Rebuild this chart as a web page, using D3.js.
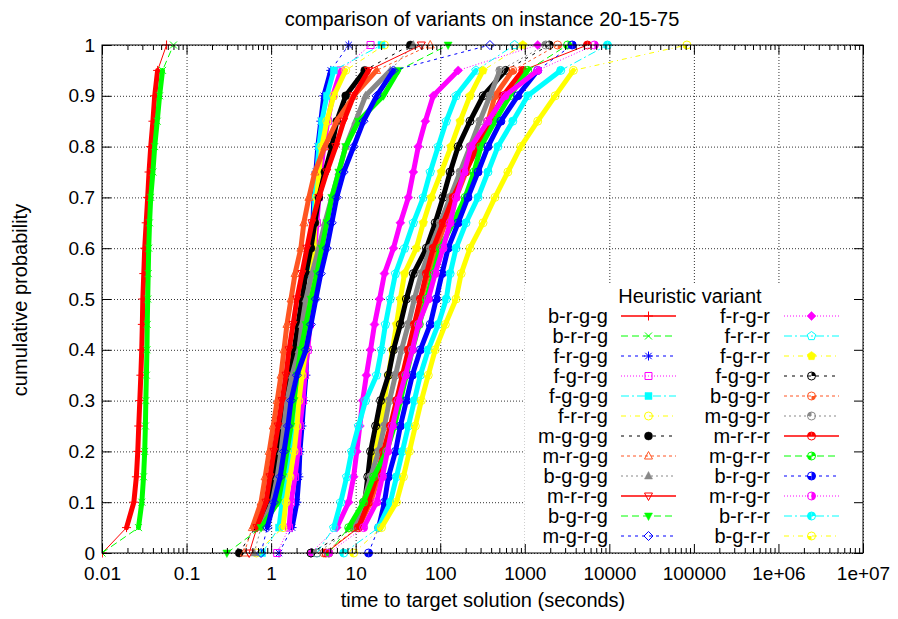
<!DOCTYPE html>
<html>
<head>
<meta charset="UTF-8">
<style>
  body { margin: 0; background: #fff; }
  svg { display: block; font-family: "Liberation Sans", Arial, Helvetica, sans-serif; }
</style>
</head>
<body>
<div id="chart"></div>
<script src="https://d3js.org/d3.v7.min.js"></script>
<script>
// cumulative probability levels read for every curve
var probs = [0, 0.05, 0.1, 0.15, 0.2, 0.25, 0.3, 0.35, 0.4, 0.45, 0.5, 0.55, 0.6, 0.65, 0.7, 0.75, 0.8, 0.85, 0.9, 0.95, 1];

// time to target (seconds) at those levels, one array per variant
var brgg = [0.0101, 0.0195, 0.0238, 0.0255, 0.0265, 0.0272, 0.028, 0.0288, 0.0295, 0.030, 0.0304, 0.0312, 0.032, 0.0333, 0.0347, 0.036, 0.0377, 0.040, 0.042, 0.0455, 0.058];
var brrg = [0.0100, 0.027, 0.0296, 0.031, 0.032, 0.0326, 0.033, 0.0335, 0.034, 0.0343, 0.0347, 0.0352, 0.0357, 0.0365, 0.0377, 0.040, 0.042, 0.045, 0.048, 0.052, 0.070];
var frgg = [1.24, 1.77, 2.02, 2.13, 2.19, 2.32, 2.44, 2.58, 2.65, 2.80, 2.88, 2.96, 3.04, 3.12, 3.21, 3.38, 3.57, 3.87, 4.2, 5.08, 8.27];
var fgrg = [1.18, 1.63, 1.72, 1.92, 2.08, 2.19, 2.38, 2.51, 2.72, 2.88, 3.04, 3.21, 3.29, 3.48, 3.67, 3.87, 4.2, 4.68, 5.36, 6.66, 15.0];
var fggg = [0.78, 1.24, 1.35, 1.50, 1.72, 1.87, 2.02, 2.19, 2.44, 2.65, 2.80, 2.96, 3.12, 3.21, 3.29, 3.48, 3.67, 3.98, 4.56, 5.51, 20.2];
var frrg = [0.67, 1.38, 1.50, 1.67, 1.87, 2.02, 2.13, 2.32, 2.58, 2.72, 2.88, 3.04, 3.21, 3.29, 3.48, 3.67, 3.98, 4.56, 5.51, 7.62, 21.9];
var mggg = [0.42, 0.65, 0.95, 1.06, 1.18, 1.35, 1.50, 1.67, 1.87, 2.08, 2.32, 2.58, 2.96, 3.29, 3.67, 4.32, 5.22, 5.97, 7.62, 12.8, 44.4];
var mrgg = [0.48, 0.60, 0.76, 0.85, 0.95, 1.06, 1.18, 1.31, 1.42, 1.54, 1.72, 1.92, 2.25, 2.44, 2.80, 3.29, 4.32, 5.97, 9.47, 17.7, 76.2];
var bggg = [0.63, 0.76, 1.03, 1.18, 1.31, 1.42, 1.54, 1.77, 2.13, 2.32, 2.58, 3.04, 3.67, 4.32, 5.22, 6.31, 7.62, 10.0, 13.1, 25.7, 48.1];
var mrrg = [0.55, 0.68, 0.87, 0.97, 1.08, 1.21, 1.35, 1.50, 1.63, 1.82, 2.02, 2.32, 2.65, 3.04, 3.67, 4.56, 5.82, 7.22, 9.47, 14.2, 59.8];
var bgrg = [0.30, 0.76, 1.21, 1.38, 1.54, 1.72, 1.87, 2.02, 2.25, 2.58, 2.96, 3.48, 3.98, 4.56, 5.22, 6.31, 7.62, 10.8, 21.3, 32.0, 124];
var mgrg = [0.76, 0.90, 1.08, 1.28, 1.42, 1.58, 1.72, 2.02, 2.58, 2.96, 3.38, 3.87, 4.56, 5.22, 5.97, 7.22, 9.47, 12.4, 17.7, 28.0, 387];
var frgr = [2.96, 5.97, 8.27, 9.47, 10.3, 11.2, 12.1, 13.4, 15.0, 16.7, 19.2, 21.9, 28.0, 33.8, 42.0, 48.1, 55.1, 66.7, 82.7, 163, 1422];
var frrr = [3.48, 5.51, 6.66, 7.84, 8.97, 10.8, 13.1, 17.7, 20.2, 22.5, 25.7, 29.6, 38.0, 48.1, 63.1, 76.2, 94.7, 118, 154, 265, 757];
var fgrr = [4.81, 9.47, 12.4, 15.0, 17.2, 19.7, 21.9, 24.4, 27.2, 30.4, 33.8, 37.8, 52.2, 63.1, 78.4, 103, 134, 172, 225, 321, 947];
var fggr = [2.96, 9.47, 12.8, 13.9, 15.0, 17.2, 19.7, 24.4, 28.0, 33.8, 39.8, 48.1, 68.6, 87.3, 108, 131, 163, 225, 321, 595, 1950];
var bggr = [4.2, 10.8, 15.0, 18.7, 22.5, 26.5, 31.1, 36.7, 43.2, 50.8, 59.8, 72.2, 89.7, 115, 154, 202, 265, 367, 444, 722, 2445];
var mggr = [3.48, 9.47, 12.4, 15.0, 18.7, 21.9, 25.1, 29.6, 34.8, 42.0, 49.4, 59.8, 76.2, 100, 131, 172, 225, 294, 387, 508, 1770];
var mrrr = [4.44, 10.8, 14.2, 17.7, 21.3, 25.7, 30.4, 35.7, 42.0, 49.4, 58.2, 68.6, 82.7, 108, 142, 197, 280, 387, 551, 947, 5511];
var mgrr = [4.81, 8.27, 12.4, 16.3, 23.2, 28.8, 33.8, 39.8, 46.8, 56.6, 68.6, 82.7, 100, 142, 197, 251, 303, 444, 667, 1084, 3207];
var brgr = [14.2, 18.7, 21.9, 24.4, 29.6, 33.8, 39.8, 46.8, 58.2, 76.2, 89.7, 105, 124, 163, 213, 280, 367, 522, 827, 1422, 3640];
var mrgr = [4.81, 12.4, 17.7, 20.7, 23.8, 27.2, 32.0, 38.8, 46.8, 55.1, 72.2, 87.3, 108, 131, 154, 192, 232, 367, 582, 1422, 6650];
var brrr = [7.22, 18.7, 25.7, 30.4, 35.7, 42.0, 49.4, 58.2, 72.2, 94.7, 118, 131, 154, 202, 280, 367, 481, 722, 1084, 2660, 9500];
var bgrr = [9.47, 20.2, 30.4, 36.7, 43.2, 50.8, 59.8, 72.2, 87.3, 115, 154, 177, 225, 321, 444, 631, 897, 1422, 2290, 3760, 82700];

var variants = ["b-r-g-g", "b-r-r-g", "f-r-g-g", "f-g-r-g", "f-g-g-g", "f-r-r-g", "m-g-g-g", "m-r-g-g", "b-g-g-g", "m-r-r-g", "b-g-r-g", "m-g-r-g",
                "f-r-g-r", "f-r-r-r", "f-g-r-r", "f-g-g-r", "b-g-g-r", "m-g-g-r", "m-r-r-r", "m-g-r-r", "b-r-g-r", "m-r-g-r", "b-r-r-r", "b-g-r-r"];
var times = [brgg, brrg, frgg, fgrg, fggg, frrg, mggg, mrgg, bggg, mrrg, bgrg, mgrg,
             frgr, frrr, fgrr, fggr, bggr, mggr, mrrr, mgrr, brgr, mrgr, brrr, bgrr];

var xTicks = [0.01, 0.1, 1, 10, 100, 1000, 10000, 100000, 1e6, 1e7];
var xTickLabels = ["0.01", "0.1", "1", "10", "100", "1000", "10000", "100000", "1e+06", "1e+07"];
var yTicks = [0, 0.1, 0.2, 0.3, 0.4, 0.5, 0.6, 0.7, 0.8, 0.9, 1];
var yTickLabels = ["0", "0.1", "0.2", "0.3", "0.4", "0.5", "0.6", "0.7", "0.8", "0.9", "1"];

// gnuplot style cycle (colour + dash), markers by series number
var lineColors = ["#ff0000", "#00ff00", "#0000ff", "#ff00ff", "#00ffff", "#ffff00", "#000000", "#ff5522", "#888888"];
var lineDashes = [null, "7,4", "3,4", "1,2", "8,3,2,3", "5,4,1,4", "3,5", "3,3", "2,3"];

var W = 898, H = 619;
var svg = d3.select("#chart").append("svg").attr("width", W).attr("height", H);

var x = d3.scaleLog().domain([0.01, 1e7]).range([102, 863]);
var y = d3.scaleLinear().domain([0, 1]).range([553, 45]);
var plotW = 863 - 102, plotH = 553 - 45;

// grid
svg.append("g")
  .attr("transform", "translate(0," + y(0) + ")")
  .call(d3.axisBottom(x).tickValues(xTicks).tickSize(-plotH).tickFormat(""))
  .call(function(g) { g.select(".domain").remove(); })
  .selectAll("line").attr("stroke", "#333").attr("stroke-dasharray", "1,2");
svg.append("g")
  .attr("transform", "translate(102,0)")
  .call(d3.axisLeft(y).tickValues(yTicks).tickSize(-plotW).tickFormat(""))
  .call(function(g) { g.select(".domain").remove(); })
  .selectAll("line").attr("stroke", "#333").attr("stroke-dasharray", "1,2");

svg.append("clipPath").attr("id", "clip")
  .append("rect").attr("x", 102).attr("y", 40).attr("width", plotW + 1).attr("height", plotH + 10);

var quad = { TR: [0, Math.PI / 2], BR: [Math.PI / 2, Math.PI], BL: [Math.PI, 1.5 * Math.PI], TL: [1.5 * Math.PI, 2 * Math.PI] };
var pieFill = [["TR"], ["BR"], ["TL"], ["TL", "TR"], ["TR", "BL"], ["TR", "BR", "BL"], ["TR", "BR"], ["TL", "TR", "BL"], ["BL"]];

function pentagon(r) {
  var pts = [];
  for (var k = 0; k < 5; k++) {
    var a = -Math.PI / 2 + k * 2 * Math.PI / 5;
    pts.push([(r * Math.cos(a)).toFixed(2), (r * Math.sin(a)).toFixed(2)]);
  }
  return "M" + pts.join("L") + "Z";
}

function drawMarker(g, k, color) {
  var open = function(d) { g.append("path").attr("d", d).attr("fill", "none").attr("stroke", color).attr("stroke-width", 1); };
  var full = function(d) { g.append("path").attr("d", d).attr("fill", color).attr("stroke", color).attr("stroke-width", 0.5); };
  var circ = "M4,0A4,4 0 1,1 -4,0A4,4 0 1,1 4,0Z";
  if (k === 0) open("M-4.5,0H4.5M0,-4.5V4.5");
  else if (k === 1) open("M-3.5,-3.5L3.5,3.5M-3.5,3.5L3.5,-3.5");
  else if (k === 2) open("M-4.5,0H4.5M0,-4.5V4.5M-3.2,-3.2L3.2,3.2M-3.2,3.2L3.2,-3.2");
  else if (k === 3) open("M-3.5,-3.5H3.5V3.5H-3.5Z");
  else if (k === 4) full("M-3.5,-3.5H3.5V3.5H-3.5Z");
  else if (k === 5) open(circ);
  else if (k === 6) full(circ);
  else if (k === 7) open("M0,-4.5L4,3L-4,3Z");
  else if (k === 8) full("M0,-4.5L4,3L-4,3Z");
  else if (k === 9) open("M0,4.5L4,-3L-4,-3Z");
  else if (k === 10) full("M0,4.5L4,-3L-4,-3Z");
  else if (k === 11) open("M0,-4.5L4.5,0L0,4.5L-4.5,0Z");
  else if (k === 12) full("M0,-4.5L4.5,0L0,4.5L-4.5,0Z");
  else if (k === 13) open(pentagon(4.5));
  else if (k === 14) full(pentagon(4.5));
  else {
    var arc = d3.arc().innerRadius(0).outerRadius(4);
    pieFill[k - 15].forEach(function(q) {
      g.append("path").attr("d", arc({ startAngle: quad[q][0], endAngle: quad[q][1] })).attr("fill", color);
    });
    open(circ);
  }
}

// curves
var line = d3.line().x(function(d) { return x(d[0]); }).y(function(d) { return y(d[1]); });
var plot = svg.append("g").attr("clip-path", "url(#clip)");

times.forEach(function(ts, i) {
  var color = lineColors[i % 9], dash = lineDashes[i % 9];
  var pts = ts.map(function(t, j) { return [t, probs[j]]; });
  var g = plot.append("g");
  g.append("path").datum(pts.slice(1, pts.length - 1)).attr("d", line)
    .attr("fill", "none").attr("stroke", color).attr("stroke-width", 5)
    .attr("stroke-linejoin", "round").attr("stroke-linecap", "round");
  g.append("path").datum(pts).attr("d", line)
    .attr("fill", "none").attr("stroke", color).attr("stroke-width", 1)
    .attr("stroke-dasharray", dash);
  g.selectAll("g.pt").data(pts).enter().append("g").attr("class", "pt")
    .attr("transform", function(d) { return "translate(" + x(d[0]) + "," + y(d[1]) + ")"; })
    .each(function() { drawMarker(d3.select(this), i, color); });
});

// legend (opaque key box)
var key = svg.append("g");
key.append("rect").attr("x", 525).attr("y", 283).attr("width", 338).attr("height", 270).attr("fill", "#fff");
key.append("text").attr("x", 690).attr("y", 303).attr("text-anchor", "middle")
  .attr("font-size", 20).text("Heuristic variant");
variants.forEach(function(name, i) {
  var col = Math.floor(i / 12), row = i % 12;
  var tx = col === 0 ? 608 : 770, lx = col === 0 ? 621 : 784;
  var cy = 316 + row * 20;
  var color = lineColors[i % 9];
  key.append("text").attr("x", tx).attr("y", cy + 7).attr("text-anchor", "end")
    .attr("font-size", 20).text(name);
  key.append("line").attr("x1", lx).attr("x2", lx + 55).attr("y1", cy).attr("y2", cy)
    .attr("stroke", color).attr("stroke-width", i % 9 === 0 ? 1.5 : 1).attr("stroke-dasharray", lineDashes[i % 9]);
  drawMarker(key.append("g").attr("transform", "translate(" + (lx + 27.5) + "," + cy + ")"), i, color);
});

// axes with inward ticks
var minor = [];
xTicks.slice(0, -1).forEach(function(t) { for (var m = 2; m < 10; m++) minor.push(t * m); });

function styleAxis(g) {
  g.attr("font-size", 19).attr("font-family", "Liberation Sans, Arial, sans-serif");
  g.select(".domain").remove();
}
svg.append("g").attr("transform", "translate(0,553)")
  .call(d3.axisBottom(x).tickValues(xTicks).tickSize(-9).tickPadding(14)
    .tickFormat(function(d, i) { return xTickLabels[i]; }))
  .call(styleAxis);
svg.append("g").attr("transform", "translate(0,553)")
  .call(d3.axisBottom(x).tickValues(minor).tickSize(-5).tickFormat("")).call(styleAxis);
svg.append("g").attr("transform", "translate(0,45)")
  .call(d3.axisTop(x).tickValues(xTicks).tickSize(-9).tickFormat("")).call(styleAxis);
svg.append("g").attr("transform", "translate(0,45)")
  .call(d3.axisTop(x).tickValues(minor).tickSize(-5).tickFormat("")).call(styleAxis);
svg.append("g").attr("transform", "translate(102,0)")
  .call(d3.axisLeft(y).tickValues(yTicks).tickSize(-9).tickPadding(7)
    .tickFormat(function(d, i) { return yTickLabels[i]; }))
  .call(styleAxis);
svg.append("g").attr("transform", "translate(863,0)")
  .call(d3.axisRight(y).tickValues(yTicks).tickSize(-9).tickFormat("")).call(styleAxis);

svg.append("rect").attr("x", 102).attr("y", 45).attr("width", plotW).attr("height", plotH)
  .attr("fill", "none").attr("stroke", "#000").attr("stroke-width", 1);

// titles
svg.append("text").attr("x", 482).attr("y", 26).attr("text-anchor", "middle")
  .attr("font-size", 20).text("comparison of variants on instance 20-15-75");
svg.append("text").attr("x", 483).attr("y", 607).attr("text-anchor", "middle")
  .attr("font-size", 20).text("time to target solution (seconds)");
svg.append("text").attr("transform", "translate(27,300) rotate(-90)").attr("text-anchor", "middle")
  .attr("font-size", 20).text("cumulative probability");
</script>
</body>
</html>
